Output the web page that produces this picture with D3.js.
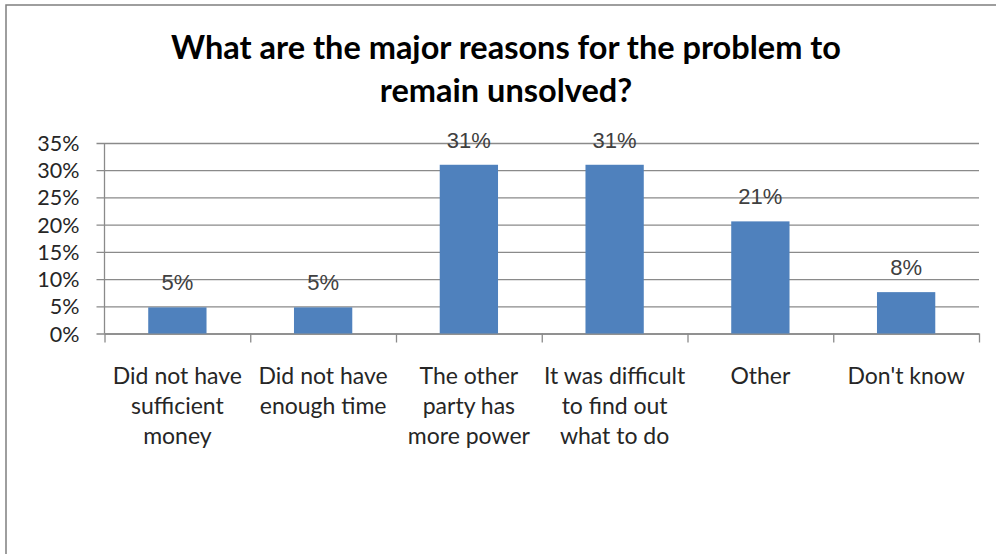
<!DOCTYPE html>
<html>
<head>
<meta charset="utf-8">
<script src="https://cdn.jsdelivr.net/npm/d3@7"></script>
<style>
  html, body { margin: 0; padding: 0; background: #fff; }
  svg { display: block; }
</style>
</head>
<body>
<svg id="chart" width="996" height="554"></svg>
<script>
// Survey responses: share of respondents per reason
const categories = [
  ["Did not have", "sufficient", "money"],
  ["Did not have", "enough time"],
  ["The other", "party has", "more power"],
  ["It was difficult", "to find out", "what to do"],
  ["Other"],
  ["Don't know"]
];
const values = [0.048, 0.048, 0.31, 0.31, 0.206, 0.076];
const yTicks = [0, 0.05, 0.10, 0.15, 0.20, 0.25, 0.30, 0.35];
const titleLines = ["What are the major reasons for the problem to", "remain unsolved?"];

const svg = d3.select("#chart");
const W = 996, H = 554;
const plot = { left: 104.5, right: 979, top: 143, bottom: 333.5 };
const gridColor = "#8a8a8a";
const textFont = "Lato, 'Open Sans', sans-serif";

// Outer frame of the chart area
svg.append("rect")
  .attr("x", 6).attr("y", 5)
  .attr("width", W + 20).attr("height", H + 20)
  .attr("fill", "#fff")
  .attr("stroke", "#7f7f7f").attr("stroke-width", 1.5);

// Title
svg.append("text")
  .attr("x", 506).attr("y", 59)
  .attr("text-anchor", "middle")
  .style("font-family", textFont)
  .style("font-weight", "bold")
  .style("font-size", "32.5px")
  .attr("fill", "#000")
  .selectAll("tspan").data(titleLines).join("tspan")
  .attr("x", 506)
  .attr("dy", (d, i) => i === 0 ? 0 : 43)
  .text(d => d);

// Scales
const idx = d3.range(categories.length);
const x = d3.scaleBand()
  .domain(idx)
  .range([plot.left, plot.right])
  .paddingInner(0.6)
  .paddingOuter(0.3);
const xEdges = d3.scaleLinear()
  .domain([0, categories.length])
  .range([plot.left, plot.right]);
const y = d3.scaleLinear()
  .domain([0, 0.35])
  .range([plot.bottom, plot.top]);

// Horizontal gridlines with outside tick marks
const yAxis = svg.append("g")
  .attr("transform", `translate(${plot.left},0)`)
  .call(d3.axisLeft(y)
    .tickValues(yTicks)
    .tickSize(-(plot.right - plot.left))
    .tickFormat(d3.format(".0%")));
yAxis.select(".domain").remove();
yAxis.selectAll(".tick line")
  .attr("x1", -8)
  .attr("stroke", gridColor)
  .attr("stroke-width", 1.3);
yAxis.selectAll(".tick text")
  .attr("x", -25)
  .attr("dy", "0.35em")
  .style("font-family", textFont)
  .style("font-size", "21.5px")
  .attr("fill", "#262626");

// Vertical value axis line
svg.append("line")
  .attr("x1", plot.left).attr("x2", plot.left)
  .attr("y1", plot.top).attr("y2", plot.bottom)
  .attr("stroke", gridColor).attr("stroke-width", 1.3);

// Category axis with ticks on band boundaries
const xAxis = svg.append("g")
  .attr("transform", `translate(0,${plot.bottom})`)
  .call(d3.axisBottom(xEdges)
    .tickValues(d3.range(categories.length + 1))
    .tickSize(9)
    .tickSizeOuter(0)
    .tickFormat(""));
xAxis.select(".domain").attr("stroke", gridColor).attr("stroke-width", 1.3);
xAxis.selectAll(".tick line").attr("stroke", gridColor).attr("stroke-width", 1.3);

// Bars
svg.append("g").selectAll("rect")
  .data(values)
  .join("rect")
  .attr("x", (d, i) => x(i))
  .attr("width", x.bandwidth())
  .attr("y", d => y(d))
  .attr("height", d => y(0) - y(d))
  .attr("fill", "#4f81bd");

// Value labels above bars
svg.append("g").selectAll("text")
  .data(values)
  .join("text")
  .attr("x", (d, i) => x(i) + x.bandwidth() / 2)
  .attr("y", d => y(d) - 17)
  .attr("text-anchor", "middle")
  .style("font-family", "'Liberation Sans', Arial, sans-serif")
  .style("font-size", "22px")
  .attr("fill", "#404040")
  .text(d => d3.format(".0%")(d));

// Category labels (multi-line)
svg.append("g").selectAll("text")
  .data(categories)
  .join("text")
  .attr("text-anchor", "middle")
  .style("font-family", textFont)
  .style("font-size", "23px")
  .attr("fill", "#262626")
  .each(function(lines, i) {
    const cx = x(i) + x.bandwidth() / 2;
    d3.select(this).selectAll("tspan")
      .data(lines)
      .join("tspan")
      .attr("x", cx)
      .attr("y", (d, j) => 384 + j * 30)
      .text(d => d);
  });
</script>
</body>
</html>
